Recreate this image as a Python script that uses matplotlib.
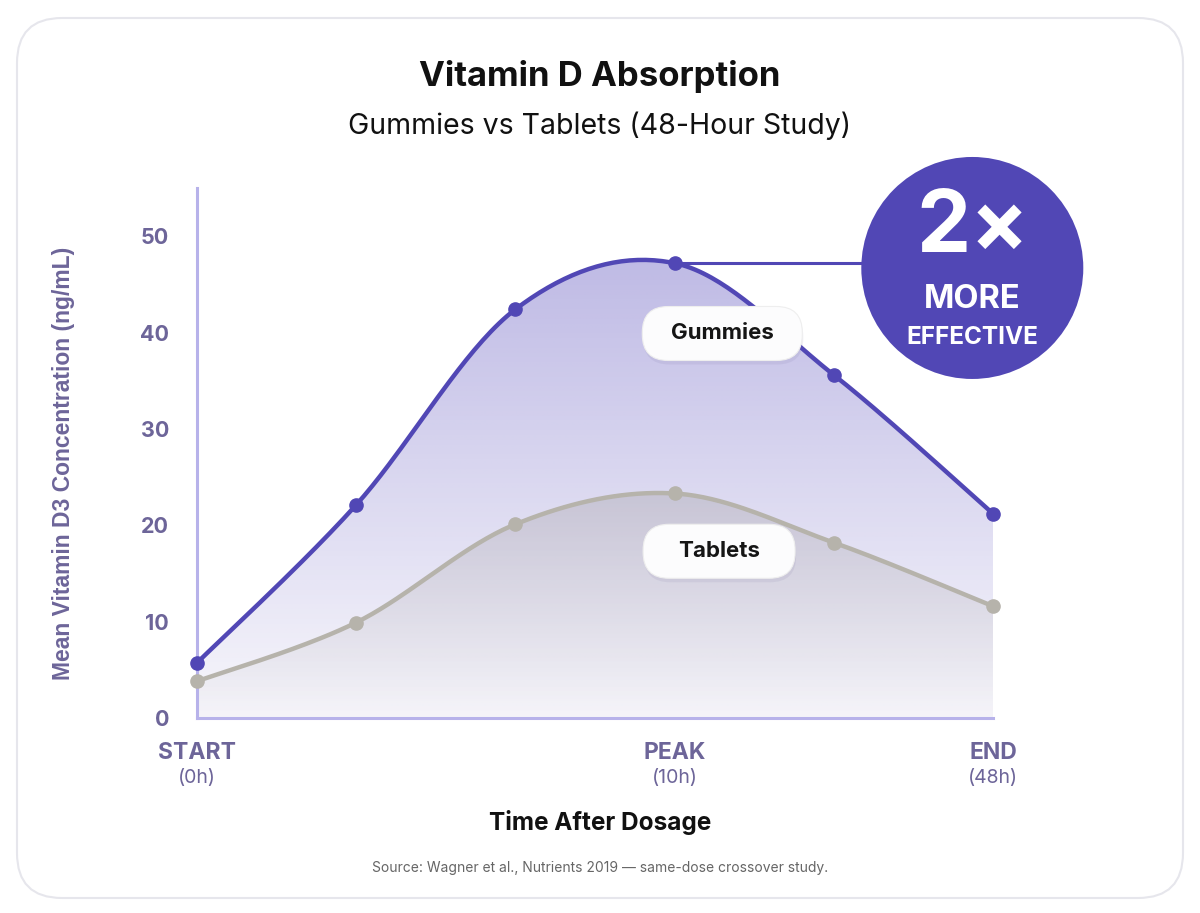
import numpy as np
import matplotlib
matplotlib.use('Agg')
import matplotlib.pyplot as plt
from matplotlib.patches import FancyBboxPatch, Circle, Polygon
from matplotlib.transforms import ScaledTranslation

# data
stages = ['START', '', '', 'PEAK', '', 'END']
stage_hours = ['(0h)', '', '', '(10h)', '', '(48h)']
gummies = [5.7, 22.1, 42.4, 47.2, 35.6, 21.2]
tablets = [3.8, 9.9, 20.1, 23.3, 18.2, 11.6]
yticks = [0, 10, 20, 30, 40, 50]

PURPLE = '#5147b5'
GREY = '#b6b3ab'
TICK = '#6d6599'
SPINE = '#b7b2ea'

plt.rcParams['font.family'] = ['Inter', 'DejaVu Sans']


def catmull_rom(x, y, n=40):
    x = np.asarray(x, float)
    y = np.asarray(y, float)
    px = np.concatenate([[x[0]], x, [x[-1]]])
    py = np.concatenate([[y[0]], y, [y[-1]]])
    xs, ys = [], []
    t = np.linspace(0, 1, n)
    for i in range(1, len(px) - 2):
        for arr, out in ((px, xs), (py, ys)):
            p0, p1, p2, p3 = arr[i - 1], arr[i], arr[i + 1], arr[i + 2]
            out.append(0.5 * (2 * p1 + (-p0 + p2) * t
                              + (2 * p0 - 5 * p1 + 4 * p2 - p3) * t ** 2
                              + (-p0 + 3 * p1 - 3 * p2 + p3) * t ** 3))
    return np.concatenate(xs), np.concatenate(ys)


def gradient_fill(ax, xs, ys, rgb, a_top, a_bot, ymax, z):
    poly = Polygon(np.column_stack([np.r_[xs, xs[-1], xs[0]],
                                    np.r_[ys, 0, 0]]),
                   closed=True, fc='none', ec='none')
    ax.add_patch(poly)
    img = np.zeros((200, 2, 4))
    img[:, :, :3] = rgb
    img[:, :, 3] = np.linspace(a_top, a_bot, 200)[:, None]
    im = ax.imshow(img, extent=[xs.min(), xs.max(), 0, ymax], aspect='auto',
                   origin='upper', zorder=z, interpolation='bilinear')
    im.set_clip_path(poly)


fig = plt.figure(figsize=(12, 9.13), dpi=100)
fig.patch.set_facecolor('white')

card = FancyBboxPatch((0.17, 0.15), 11.66, 8.80,
                      boxstyle='round,pad=0,rounding_size=0.45',
                      transform=fig.dpi_scale_trans, fc='white',
                      ec='#e6e6ec', lw=1.5, zorder=-5)
fig.patches.append(card)

ax = fig.add_axes([0.164, 0.2136, 0.6635, 0.5805])
ax.set_facecolor('none')
x = np.arange(len(gummies))
ax.set_xlim(0, 5)
ax.set_ylim(0, 55)

gx, gy = catmull_rom(x, gummies)
tx, ty = catmull_rom(x, tablets)

gradient_fill(ax, gx, gy, (0.40, 0.36, 0.76), 0.42, 0.05, max(gy), 1)
gradient_fill(ax, tx, ty, (0.55, 0.53, 0.52), 0.25, 0.02, max(ty), 2)

ax.plot(tx, ty, color=GREY, lw=3.2, zorder=3, solid_capstyle='round')
ax.plot(x, tablets, 'o', color=GREY, ms=9.5, zorder=4, clip_on=False)
ax.plot(gx, gy, color=PURPLE, lw=3.2, zorder=5, solid_capstyle='round')
ax.plot(x, gummies, 'o', color=PURPLE, ms=9.5, zorder=6, clip_on=False)

for s in ['top', 'right']:
    ax.spines[s].set_visible(False)
for s in ['left', 'bottom']:
    ax.spines[s].set_color(SPINE)
    ax.spines[s].set_linewidth(2.2)

ax.set_yticks(yticks)
ax.set_yticklabels([str(v) for v in yticks], fontsize=15.5, fontweight='bold',
                   color=TICK)
ax.tick_params(axis='y', length=0, pad=20)

major = [i for i, s in enumerate(stages) if s]
ax.set_xticks(major)
ax.set_xticklabels([stages[i] for i in major], fontsize=16.5,
                   fontweight='bold', color=TICK)
ax.tick_params(axis='x', length=0, pad=17)
for i in major:
    ax.annotate(stage_hours[i], (x[i], 0), xytext=(0, -43.5),
                textcoords='offset points', ha='center', va='center',
                fontsize=14, color=TICK, annotation_clip=False)

ax.set_ylabel('Mean Vitamin D3 Concentration (ng/mL)', fontsize=16.5,
              fontweight='bold', color=TICK,
              family=['Liberation Sans', 'DejaVu Sans'])
ax.yaxis.set_label_coords(-0.153, 0.48)

# callout connector and badge
ax.plot([3, 4.87], [gummies[3], gummies[3]], color=PURPLE, lw=2.2, zorder=5)
badge = fig.dpi_scale_trans + ScaledTranslation(4.87, 46.7, ax.transData)
ax.add_patch(Circle((0, 0), 1.11, transform=badge, fc=PURPLE, ec='none',
                    zorder=10, clip_on=False))
ax.text(0, 0.38, '2×', transform=badge, ha='center', va='center',
        fontsize=62, fontweight='bold', color='white', zorder=11)
ax.text(0, -0.32, 'MORE', transform=badge, ha='center', va='center',
        fontsize=23.5, fontweight='bold', color='white', zorder=11)
ax.text(0, -0.70, 'EFFECTIVE', transform=badge, ha='center', va='center',
        fontsize=17.5, fontweight='bold', color='white', zorder=11)

# series labels
for name, (lx, ly), w in [('Gummies', (3.30, 39.9), 1.60),
                          ('Tablets', (3.28, 17.3), 1.52)]:
    tr = fig.dpi_scale_trans + ScaledTranslation(lx, ly, ax.transData)
    sh = FancyBboxPatch((-w / 2 + 0.01, -0.31), w, 0.54,
                        boxstyle='round,pad=0,rounding_size=0.26',
                        transform=tr, fc='#6d6599', alpha=0.10, ec='none',
                        zorder=7)
    ax.add_patch(sh)
    box = FancyBboxPatch((-w / 2, -0.27), w, 0.54,
                         boxstyle='round,pad=0,rounding_size=0.26',
                         transform=tr, fc='#fcfcfd', ec='#eeeeee', lw=0.8,
                         zorder=8)
    ax.add_patch(box)
    ax.text(0, 0, name, transform=tr, ha='center', va='center', fontsize=16,
            fontweight='bold', color='#151515', zorder=9)

fig.text(0.5, 0.916, 'Vitamin D Absorption', ha='center', va='center',
         fontsize=25, fontweight='bold', color='#111111')
fig.text(0.5, 0.862, 'Gummies vs Tablets (48-Hour Study)', ha='center',
         va='center', fontsize=20.5, color='#111111')
fig.text(0.5, 0.099, 'Time After Dosage', ha='center', va='center',
         fontsize=17.5, fontweight='bold', color='#111111')
fig.text(0.5, 0.049, 'Source: Wagner et al., Nutrients 2019 \u2014 same-dose crossover study.',
         ha='center', va='center', fontsize=10, color='#666666')

fig.savefig('out.png', dpi=100, facecolor='white')
